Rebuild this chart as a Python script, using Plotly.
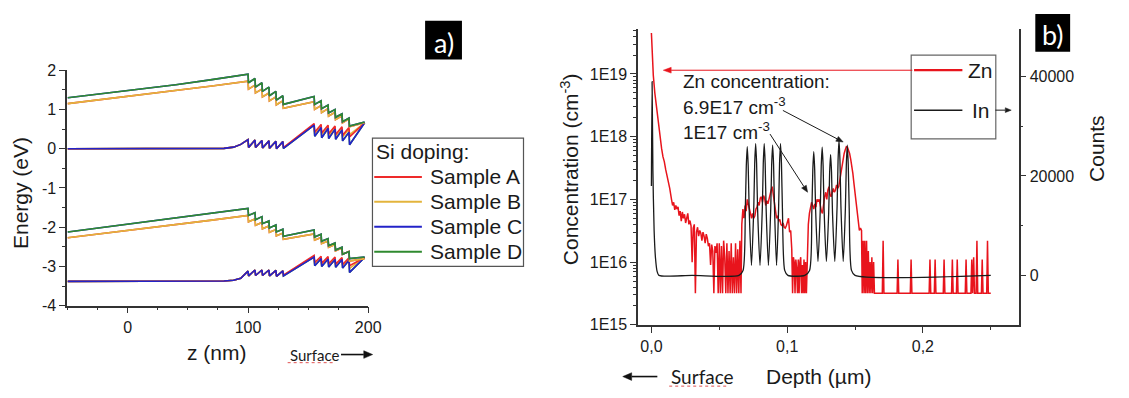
import math
import plotly.graph_objects as go

W, H = 1129, 398
FONT = "Liberation Sans, Arial, sans-serif"
FONT2 = "Lato, Open Sans, sans-serif"

# ---------------- Panel a: band diagram (energy vs z) ----------------
samples = ["Sample A", "Sample B", "Sample C", "Sample D"]
sample_colors = {"Sample A": "#ee2a2a", "Sample B": "#e3b43c", "Sample C": "#2323c8", "Sample D": "#2f8a2f"}

z_upper = [-50, -20, 10, 40, 70, 100, 100.4, 105.8, 106.2, 111.6, 112, 117.4, 117.8, 123.2, 123.6,
           129, 129.4, 155, 155.4, 160.8, 161.2, 166.6, 167, 172.4, 172.8, 178.2, 178.6, 184, 184.4, 197]
z_lower = [-50, 0, 50, 80, 88, 94, 100, 100.5, 105.8, 106.3, 111.6, 112.1, 117.4, 117.9, 123.2, 123.7,
           129, 129.5, 155, 155.5, 160.8, 161.3, 166.6, 167.1, 172.4, 172.9, 178.2, 178.7, 184, 184.5, 197]

# upper group (around 0..2 eV)
top_upper_CD = [1.30, 1.41, 1.52, 1.63, 1.76, 1.90, 1.68, 1.79, 1.57, 1.68, 1.46, 1.57, 1.35, 1.46, 1.24,
                1.35, 1.13, 1.33, 1.13, 1.22, 1.02, 1.11, 0.91, 1.00, 0.80, 0.89, 0.69, 0.78, 0.58, 0.68]
top_upper_AB = [1.15, 1.26, 1.37, 1.48, 1.60, 1.72, 1.52, 1.62, 1.42, 1.52, 1.32, 1.42, 1.22, 1.32, 1.12,
                1.22, 1.03, 1.20, 1.00, 1.10, 0.92, 1.02, 0.83, 0.93, 0.74, 0.84, 0.66, 0.76, 0.56, 0.66]
top_lower_CD = [0.0, 0.0, 0.0, 0.01, 0.04, 0.11, 0.23, 0.03, 0.22, 0.03, 0.21, 0.02, 0.20, 0.01, 0.19, 0.0,
                0.18, 0.01, 0.60, 0.32, 0.54, 0.28, 0.52, 0.26, 0.50, 0.24, 0.48, 0.20, 0.42, 0.10, 0.66]
top_lower_A = [0.0, 0.0, 0.0, 0.01, 0.04, 0.11, 0.23, 0.03, 0.22, 0.03, 0.21, 0.02, 0.20, 0.01, 0.19, 0.0,
               0.18, 0.03, 0.64, 0.42, 0.62, 0.40, 0.60, 0.38, 0.58, 0.36, 0.56, 0.34, 0.54, 0.30, 0.66]
top_lower_B = [0.0, 0.0, 0.0, 0.01, 0.04, 0.11, 0.23, 0.03, 0.22, 0.03, 0.21, 0.02, 0.20, 0.01, 0.19, 0.0,
               0.18, 0.03, 0.62, 0.38, 0.58, 0.36, 0.56, 0.34, 0.54, 0.32, 0.52, 0.30, 0.50, 0.36, 0.66]
# lower group (around -2..-3.4 eV)
bot_upper_CD = [-2.12, -2.00, -1.88, -1.76, -1.64, -1.52, -1.70, -1.63, -1.81, -1.73, -1.91, -1.84, -2.02,
                -1.94, -2.12, -2.05, -2.23, -2.07, -2.25, -2.18, -2.36, -2.29, -2.47, -2.40, -2.58, -2.51,
                -2.69, -2.62, -2.80, -2.76]
bot_upper_AB = [-2.27, -2.16, -2.04, -1.93, -1.82, -1.70, -1.86, -1.79, -1.95, -1.88, -2.04, -1.97, -2.13,
                -2.06, -2.22, -2.15, -2.31, -2.17, -2.33, -2.26, -2.42, -2.35, -2.51, -2.44, -2.60, -2.53,
                -2.69, -2.62, -2.86, -2.80]
bot_lower_CD = [-3.38, -3.38, -3.38, -3.37, -3.35, -3.30, -3.12, -3.24, -3.09, -3.23, -3.09, -3.23, -3.09,
                -3.24, -3.10, -3.25, -3.11, -3.24, -2.76, -2.98, -2.80, -3.00, -2.81, -3.01, -2.82, -3.02,
                -2.82, -3.04, -2.84, -3.15, -2.77]
bot_lower_A = [-3.38, -3.38, -3.38, -3.37, -3.35, -3.30, -3.12, -3.24, -3.09, -3.23, -3.09, -3.23, -3.09,
               -3.24, -3.10, -3.25, -3.11, -3.22, -2.72, -2.90, -2.74, -2.92, -2.75, -2.93, -2.76, -2.94,
               -2.77, -2.95, -2.78, -2.98, -2.77]
bot_lower_B = [-3.38, -3.38, -3.38, -3.37, -3.35, -3.30, -3.12, -3.24, -3.09, -3.23, -3.09, -3.23, -3.09,
               -3.24, -3.10, -3.25, -3.11, -3.22, -2.74, -2.95, -2.77, -2.96, -2.78, -2.97, -2.79, -2.98,
               -2.80, -2.99, -2.81, -3.05, -2.77]

energy_ticks = [-4, -3, -2, -1, 0, 1, 2]
z_ticks = [0, 100, 200]

# ---------------- Panel b: SIMS depth profile ----------------
ZN = [
    (0.0000, 4.5e19), (0.0007, 2.0e19), (0.0014, 9.5e18), (0.0025, 5.0e18), (0.0035, 3.2e18),
    (0.0045, 2.3e18), (0.0055, 1.4e18), (0.0065, 8.5e17), (0.0075, 6.5e17), (0.0085, 4.8e17),
    (0.0095, 4.0e17), (0.0105, 3.0e17), (0.0115, 2.4e17), (0.0125, 1.9e17), (0.0135, 1.5e17),
    (0.0148, 1.0e17), (0.0156, 8.0e16), (0.0164, 9.0e16), (0.0172, 6.8e16), (0.0180, 8.0e16),
    (0.0188, 7.0e16), (0.0196, 7.6e16), (0.0204, 5.5e16), (0.0212, 6.5e16), (0.0220, 4.5e16),
    (0.0228, 6.3e16), (0.0236, 5.0e16), (0.0244, 5.8e16), (0.0252, 4.2e16), (0.0260, 5.0e16),
    (0.0268, 6.0e16), (0.0276, 4.0e16), (0.0284, 4.6e16), (0.0292, 3.8e16), (0.0300, 1.0e16),
    (0.0308, 3.5e16), (0.0316, 4.0e16), (0.0324, 3.2e15), (0.0332, 3.0e16), (0.0340, 3.6e16),
    (0.0348, 2.6e16), (0.0356, 3.2e16), (0.0364, 2.9e16), (0.0372, 2.2e16), (0.0380, 3.0e16),
    (0.0388, 2.6e16), (0.0396, 2.0e16), (0.0404, 2.8e16), (0.0412, 2.4e16), (0.0420, 1.8e16),
    (0.0428, 2.0e16), (0.0436, 9.0e15), (0.0444, 1.9e16), (0.0452, 1.5e16), (0.0460, 3.2e15),
    (0.0468, 1.8e16), (0.0476, 1.4e16), (0.0484, 2.0e16), (0.0492, 3.2e15), (0.0500, 2.0e16),
    (0.0508, 3.2e15), (0.0516, 1.8e16), (0.0524, 3.2e15), (0.0532, 2.2e16), (0.0540, 1.2e16),
    (0.0548, 3.2e15), (0.0556, 2.0e16), (0.0564, 3.2e15), (0.0572, 1.5e16), (0.0580, 3.2e15),
    (0.0588, 2.0e16), (0.0596, 3.2e15), (0.0604, 1.2e16), (0.0612, 3.2e15), (0.0620, 2.0e16),
    (0.0628, 3.2e15), (0.0636, 1.6e16), (0.0644, 3.2e15), (0.0652, 2.2e16), (0.0660, 3.2e15),
    (0.0666, 4.0e16), (0.0674, 7.0e16), (0.0682, 5.0e16), (0.0690, 8.0e16), (0.0698, 6.5e16),
    (0.0706, 1.0e17), (0.0714, 8.5e16), (0.0722, 7.0e16), (0.0730, 5.5e16), (0.0738, 5.0e16),
    (0.0746, 6.0e16), (0.0754, 5.0e16), (0.0762, 5.5e16), (0.0770, 7.0e16), (0.0778, 7.5e16),
    (0.0786, 9.0e16), (0.0794, 8.0e16), (0.0802, 1.05e17), (0.0810, 1.1e17), (0.0818, 9.0e16),
    (0.0826, 1.15e17), (0.0834, 1.05e17), (0.0842, 8.0e16), (0.0850, 9.5e16), (0.0858, 8.5e16),
    (0.0866, 1.0e17), (0.0874, 1.3e17), (0.0882, 1.4e17), (0.0890, 1.6e17), (0.0898, 1.2e17),
    (0.0906, 8.0e16), (0.0914, 6.0e16), (0.0922, 5.0e16), (0.0930, 5.5e16), (0.0938, 4.5e16),
    (0.0946, 4.8e16), (0.0954, 4.0e16), (0.0962, 3.8e16), (0.0970, 4.2e16), (0.0978, 3.6e16),
    (0.0986, 3.5e16), (0.0994, 3.8e16), (0.1002, 4.5e16), (0.1010, 5.0e16), (0.1018, 3.0e16),
    (0.1026, 3.2e16), (0.1034, 1.6e16), (0.1040, 3.2e15), (0.1046, 1.2e16), (0.1052, 1.0e16),
    (0.1058, 3.2e15), (0.1064, 1.1e16), (0.1070, 8.0e15), (0.1076, 3.2e15), (0.1082, 1.1e16),
    (0.1088, 3.2e15), (0.1094, 1.0e16), (0.1100, 1.2e16), (0.1106, 3.2e15), (0.1112, 9.0e15),
    (0.1118, 3.2e15), (0.1124, 1.1e16), (0.1130, 3.2e15), (0.1136, 1.0e16), (0.1142, 3.2e15),
    (0.1148, 1.2e16), (0.1156, 4.0e16), (0.1164, 6.0e16), (0.1172, 7.5e16), (0.1180, 9.0e16),
    (0.1188, 8.0e16), (0.1196, 7.0e16), (0.1204, 8.5e16), (0.1212, 7.5e16), (0.1220, 1.0e17),
    (0.1228, 9.5e16), (0.1236, 1.0e17), (0.1244, 7.5e16), (0.1252, 6.5e16), (0.1260, 6.0e16),
    (0.1268, 9.0e16), (0.1276, 1.1e17), (0.1284, 1.3e17), (0.1292, 1.0e17), (0.1300, 1.4e17),
    (0.1308, 1.6e17), (0.1316, 1.2e17), (0.1324, 1.1e17), (0.1332, 1.3e17), (0.1340, 1.5e17),
    (0.1348, 1.3e17), (0.1356, 1.4e17), (0.1364, 1.7e17), (0.1372, 1.5e17), (0.1380, 1.6e17),
    (0.1388, 2.1e17), (0.1396, 2.6e17), (0.1404, 3.3e17), (0.1412, 4.2e17), (0.1420, 5.4e17),
    (0.1428, 6.2e17), (0.1436, 6.9e17), (0.1444, 6.8e17), (0.1452, 6.2e17), (0.1460, 5.4e17),
    (0.1468, 4.4e17), (0.1476, 3.5e17), (0.1484, 2.6e17), (0.1492, 1.8e17), (0.1500, 1.25e17),
    (0.1508, 8.5e16), (0.1516, 6.0e16), (0.1524, 4.0e16), (0.1532, 3.2e16), (0.1540, 3.5e16),
    (0.1548, 3.2e16), (0.1553, 3.2e15), (0.1560, 2.2e16), (0.1566, 3.2e15), (0.1572, 2.2e16),
    (0.1578, 3.2e15), (0.1585, 2.2e16), (0.1591, 3.2e15), (0.1598, 1.5e16), (0.1604, 3.2e15),
    (0.1611, 1.0e16), (0.1617, 3.2e15), (0.1624, 1.2e16), (0.1630, 3.2e15), (0.1637, 1.0e16),
    (0.1643, 3.2e15),
    (0.1701, 3.2e15), (0.1707, 2.2e16), (0.1713, 3.2e15),
    (0.1810, 3.2e15), (0.1816, 1.1e16), (0.1822, 3.2e15),
    (0.1907, 3.2e15), (0.1913, 1.1e16), (0.1919, 3.2e15),
    (0.2046, 3.2e15), (0.2052, 1.1e16), (0.2058, 3.2e15),
    (0.2084, 3.2e15), (0.2090, 1.1e16), (0.2096, 3.2e15),
    (0.2150, 3.2e15), (0.2156, 1.1e16), (0.2162, 3.2e15),
    (0.2211, 3.2e15), (0.2217, 1.1e16), (0.2223, 3.2e15),
    (0.2247, 3.2e15), (0.2253, 1.1e16), (0.2259, 3.2e15),
    (0.2312, 3.2e15), (0.2318, 1.1e16), (0.2324, 3.2e15),
    (0.2354, 3.2e15), (0.2360, 1.1e16), (0.2366, 3.2e15), (0.2374, 1.2e16), (0.2380, 3.2e15),
    (0.2392, 3.2e15), (0.2398, 2.2e16), (0.2404, 3.2e15),
    (0.2431, 3.2e15), (0.2437, 1.1e16), (0.2443, 3.2e15),
    (0.2470, 3.2e15), (0.2476, 2.2e16), (0.2482, 3.2e15),
    (0.2500, 3.2e15),
]

IN = [
    (0.0000, 18000), (0.0005, 39000), (0.0011, 21000), (0.0020, 9000), (0.0030, 3500), (0.0042, 800),
    (0.0055, 0), (0.0300, 0), (0.0645, 0),
    (0.0675, 1000), (0.0692, 13500), (0.0699, 22000), (0.0706, 25900), (0.0713, 22000), (0.0720, 13500),
    (0.0737, 2000),
    (0.0754, 13500), (0.0761, 22500), (0.0768, 26500), (0.0775, 22500), (0.0782, 13500),
    (0.0800, 2000),
    (0.0817, 13500), (0.0824, 22500), (0.0831, 26500), (0.0838, 22500), (0.0845, 13500),
    (0.0862, 2000),
    (0.0879, 13400), (0.0886, 22300), (0.0893, 26200), (0.0900, 22300), (0.0907, 13400),
    (0.0922, 2000),
    (0.0937, 13500), (0.0944, 22500), (0.0951, 26500), (0.0958, 22500), (0.0965, 13500),
    (0.0982, 1000), (0.1005, 0), (0.1130, 0),
    (0.1165, 1000), (0.1182, 13000), (0.1189, 21200), (0.1196, 24900), (0.1203, 21200), (0.1210, 13000),
    (0.1227, 2800),
    (0.1244, 13300), (0.1251, 22000), (0.1258, 25800), (0.1265, 22000), (0.1272, 13300),
    (0.1289, 2800),
    (0.1306, 12600), (0.1313, 20700), (0.1320, 24300), (0.1327, 20700), (0.1334, 12600),
    (0.1351, 2800),
    (0.1368, 14000), (0.1375, 23100), (0.1382, 27200), (0.1389, 23100), (0.1396, 14000),
    (0.1413, 2800),
    (0.1429, 13500), (0.1436, 22300), (0.1443, 26200), (0.1450, 22300), (0.1457, 13500),
    (0.1474, 1000), (0.1500, 0), (0.2500, 0),
]

conc_ticks = [1e15, 1e16, 1e17, 1e18, 1e19]
conc_labels = ["1E15", "1E16", "1E17", "1E18", "1E19"]
count_ticks = [0, 20000, 40000]
depth_ticks = [0.0, 0.1, 0.2]
depth_labels = ["0,0", "0,1", "0,2"]

# ---------------- figure ----------------
fig = go.Figure()

band_curves = [
    # (sample, z, E) in drawing order
    ("Sample D", z_lower, top_lower_CD), ("Sample B", z_lower, top_lower_B),
    ("Sample A", z_lower, top_lower_A), ("Sample C", z_lower, top_lower_CD),
    ("Sample D", z_lower, bot_lower_CD), ("Sample B", z_lower, bot_lower_B),
    ("Sample A", z_lower, bot_lower_A), ("Sample C", z_lower, bot_lower_CD),
    ("Sample A", z_upper, top_upper_AB), ("Sample B", z_upper, top_upper_AB),
    ("Sample C", z_upper, top_upper_CD), ("Sample D", z_upper, top_upper_CD),
    ("Sample A", z_upper, bot_upper_AB), ("Sample B", z_upper, bot_upper_AB),
    ("Sample C", z_upper, bot_upper_CD), ("Sample D", z_upper, bot_upper_CD),
]
for name, zz, ee in band_curves:
    fig.add_trace(go.Scatter(x=zz, y=ee, mode="lines", name=name, legendgroup=name, showlegend=False,
                             line=dict(color=sample_colors[name], width=1.6), xaxis="x", yaxis="y"))

fig.add_trace(go.Scatter(x=[p[0] for p in IN], y=[p[1] for p in IN], mode="lines", name="In",
                         line=dict(color="#1a1a1a", width=1.3, shape="spline", smoothing=0.7),
                         showlegend=False, xaxis="x2", yaxis="y3"))
fig.add_trace(go.Scatter(x=[p[0] for p in ZN], y=[p[1] for p in ZN], mode="lines", name="Zn",
                         line=dict(color="#e8141c", width=1.5), showlegend=False, xaxis="x2", yaxis="y2"))

tickfont = dict(family=FONT, size=16, color="#1a1a1a")
axis_common = dict(showgrid=False, zeroline=False, showline=True, linecolor="#333", linewidth=1.5,
                   ticks="outside", tickcolor="#333", tickwidth=1.3, tickfont=tickfont)

minor_log = [float(m) * 10.0 ** k for k in range(15, 20) for m in range(2, 10)]

fig.update_layout(
    width=W, height=H, margin=dict(l=0, r=0, t=0, b=0),
    paper_bgcolor="white", plot_bgcolor="white", showlegend=False,
    xaxis=dict(domain=[67.9 / W, 372.5 / W], range=[-50.5, 200], anchor="y",
               tickvals=z_ticks, ticktext=[str(v) for v in z_ticks], ticklen=6,
               minor=dict(dtick=25, tick0=0, ticks="outside", ticklen=3, tickcolor="#333"), **axis_common),
    yaxis=dict(domain=[1 - 311 / H, 1 - 65 / H], range=[-4, 2], anchor="x",
               tickvals=energy_ticks, ticktext=[str(v) for v in energy_ticks], ticklen=6,
               minor=dict(dtick=0.5, tick0=0, ticks="outside", ticklen=3, tickcolor="#333"), **axis_common),
    xaxis2=dict(domain=[645.5 / W, 1030.6 / W], range=[-0.00983, 0.2706], anchor="y2",
                tickvals=depth_ticks, ticktext=depth_labels, ticklen=6,
                minor=dict(dtick=0.05, tick0=0, ticks="outside", ticklen=3, tickcolor="#333"), **axis_common),
    yaxis2=dict(domain=[1 - 331 / H, 1 - 21.7 / H], type="log", range=[15, 19.72], anchor="x2",
                tickvals=conc_ticks, ticktext=conc_labels, ticklen=6,
                minor=dict(tickvals=minor_log, ticks="outside", ticklen=3, tickcolor="#333"), **axis_common),
    yaxis3=dict(overlaying="y2", side="right", anchor="x2", range=[-9960, 49630],
                tickvals=count_ticks, ticktext=[str(v) for v in count_ticks], ticklen=6,
                minor=dict(dtick=10000, tick0=0, ticks="outside", ticklen=3, tickcolor="#333"), **axis_common),
)


def px(x):
    return x / W


def py(y):
    return 1 - y / H


annotations = []
shapes = []


def text(x, y, s, size, xanchor="left", yanchor="middle", angle=0, family=FONT, color="#1a1a1a"):
    annotations.append(dict(x=px(x), y=py(y), xref="paper", yref="paper", text=s, showarrow=False,
                            xanchor=xanchor, yanchor=yanchor, textangle=angle,
                            font=dict(size=size, family=family, color=color)))


def line(x0, y0, x1, y1, color, width, dash=None):
    shapes.append(dict(type="line", xref="paper", yref="paper", x0=px(x0), y0=py(y0), x1=px(x1), y1=py(y1),
                       line=dict(color=color, width=width, dash=dash)))


def rect(x0, y0, x1, y1, line_color, fill=None, width=1.2):
    shapes.append(dict(type="rect", xref="paper", yref="paper", x0=px(x0), y0=py(y0), x1=px(x1), y1=py(y1),
                       line=dict(color=line_color, width=width), fillcolor=fill))


def arrow(x0, y0, x1, y1, color="#1a1a1a", width=1.0, head=8, half=3.2):
    # shaft + filled triangular head (pixel geometry converted to paper units)
    dx, dy = x1 - x0, y1 - y0
    n = math.hypot(dx, dy)
    ux, uy = dx / n, dy / n
    bx, by = x1 - head * ux, y1 - head * uy
    line(x0, y0, bx, by, color, width)
    pts = [(x1, y1), (bx - half * uy, by + half * ux), (bx + half * uy, by - half * ux)]
    path = "M " + " L ".join(f"{px(a):.5f},{py(b):.5f}" for a, b in pts) + " Z"
    shapes.append(dict(type="path", xref="paper", yref="paper", path=path, fillcolor=color,
                       line=dict(color=color, width=0.5)))


# panel a titles
text(20.5, 193, "Energy (eV)", 21, xanchor="center", angle=-90)
text(220, 360, "z (nm)", 21, xanchor="center")
text(291, 362, "Surface", 15, family=FONT2)
line(291, 370.5, 339, 370.5, "#e05050", 1, dash="dot")
arrow(345, 362, 377, 362, "#111", 1.6, head=9, half=4)

# panel a legend
rect(376.8, 136, 529.6, 270, "#555")
text(378.6, 150, "Si doping:", 21)
for i, name in enumerate(samples):
    yy = 176.5 + i * 26
    line(378.6, yy, 426.8, yy, sample_colors[name], 2)
    text(433, yy, name, 21)

# panel labels
rect(430.7, 14, 466.7, 53.3, "black", fill="black")
text(448.7, 36, "a)", 27, xanchor="center", family=FONT2, color="white")
rect(1048, 7, 1082, 45, "black", fill="black")
text(1065, 28, "b)", 27, xanchor="center", family=FONT2, color="white")

# panel b titles
text(576, 168, "Concentration (cm<sup>-3</sup>)", 21, xanchor="center", angle=-90)
text(1109, 147, "Counts", 21, xanchor="center", angle=-90)
text(827.6, 385, "Depth (\u00b5m)", 21, xanchor="center")
text(676.8, 385, "Surface", 19, family=FONT2)
line(677, 395, 737, 395, "#e05050", 1, dash="dot")
arrow(665, 385, 630, 385, "#111", 1.6, head=9, half=4)

# panel b legend
rect(921.8, 49.3, 1007.4, 136.7, "#666")
line(924.7, 65, 973.6, 65, "#e8141c", 2.2)
text(977, 65, "Zn", 21)
line(924.7, 106.7, 973.6, 106.7, "#1a1a1a", 1.5)
text(981, 106.7, "In", 21)
arrow(923, 65, 671, 65, "#e8141c", 1.0, head=8, half=3)
arrow(1007, 106.7, 1023, 106.7, "#1a1a1a", 1.0, head=6, half=2.5)

# panel b annotations
text(688.8, 77.3, "Zn concentration:", 19)
text(688.8, 102, "6.9E17 cm<sup>-3</sup>", 19)
text(688.8, 128.3, "1E17 cm<sup>-3</sup>", 19)
arrow(792, 107, 853, 140, "#1a1a1a", 1.0, head=7, half=2.8)
arrow(779, 131.7, 817, 192.5, "#1a1a1a", 1.0, head=7, half=2.8)

fig.update_layout(annotations=annotations, shapes=shapes)
fig.write_html("out.html")
